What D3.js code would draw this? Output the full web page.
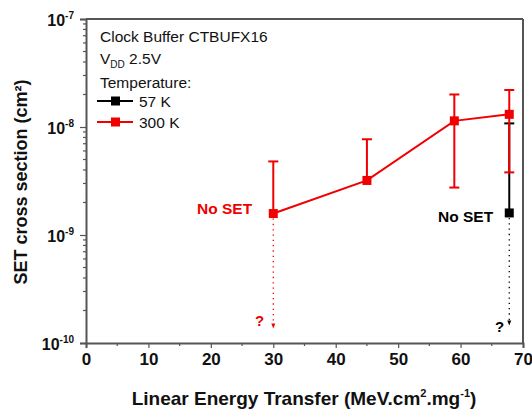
<!DOCTYPE html>
<html>
<head>
<meta charset="utf-8">
<script src="https://cdn.jsdelivr.net/npm/d3@7"></script>
<style>
  body { margin: 0; background: #fff; }
  svg { font-family: "Liberation Sans", Arial, sans-serif; }
</style>
</head>
<body>
<div id="chart"></div>
<script>
// values
const let300 = [30, 45, 59, 67.8];
const sigma300 = [1.58e-9, 3.2e-9, 1.14e-8, 1.31e-8];
const upper300 = [4.8e-9, 7.7e-9, 2.0e-8, 2.2e-8];
const lower300 = [null, null, 2.75e-9, 3.8e-9];

const let57 = [67.8];
const sigma57 = [1.6e-9];
const upper57 = [1.08e-8];
const lower57 = [null];

// "No SET" points: dotted arrows down to "?"
const noSetLet = [30, 67.8];
const noSetFrom = [1.58e-9, 1.6e-9];
const noSetTo = [1.36e-10, 1.45e-10];
const noSetColor = ["#f00000", "#000"];

const xTicks = [0, 10, 20, 30, 40, 50, 60, 70];
const yMajor = [1e-10, 1e-9, 1e-8, 1e-7];
const yExps = ["-10", "-9", "-8", "-7"];

const margin = { top: 19, right: 9, bottom: 70, left: 86 },
      width = 532 - margin.left - margin.right,
      height = 413 - margin.top - margin.bottom;

const svg = d3.select("#chart")
  .append("svg")
  .attr("width", 532)
  .attr("height", 413);

const g = svg.append("g")
  .attr("transform", `translate(${margin.left},${margin.top})`);

const x = d3.scaleLinear().domain([0, 70]).range([0, width]);
const y = d3.scaleLog().domain([1e-10, 1e-7]).range([height, 0]);

const frame = "#555";

// x axis
const minorX = d3.range(5, 70, 10);
g.append("g")
  .attr("transform", `translate(0,${height})`)
  .selectAll("line.minor")
  .data(minorX)
  .join("line")
  .attr("x1", d => x(d)).attr("x2", d => x(d))
  .attr("y1", 0).attr("y2", 3)
  .attr("stroke", frame).attr("stroke-width", 1.2);

const xAxis = g.append("g")
  .attr("transform", `translate(0,${height})`)
  .call(d3.axisBottom(x).tickValues(xTicks).tickSize(5).tickPadding(5).tickFormat(d3.format("d")));
xAxis.select(".domain").attr("stroke", frame).attr("stroke-width", 2);
xAxis.selectAll(".tick line").attr("stroke", frame).attr("stroke-width", 1.2);
xAxis.selectAll(".tick text")
  .attr("font-family", "Liberation Sans, Arial, sans-serif")
  .attr("font-size", 17).attr("font-weight", "bold").attr("fill", "#111");

// y axis
const minorY = [];
yMajor.slice(0, -1).forEach(p => { for (let k = 2; k <= 9; k++) minorY.push(p * k); });
g.append("g").selectAll("line")
  .data(minorY)
  .join("line")
  .attr("x1", -3).attr("x2", 0)
  .attr("y1", d => y(d)).attr("y2", d => y(d))
  .attr("stroke", frame).attr("stroke-width", 1.2);

const yAxis = g.append("g")
  .call(d3.axisLeft(y).tickValues(yMajor).tickSize(6).tickFormat(""));
yAxis.select(".domain").attr("stroke", frame).attr("stroke-width", 2);
yAxis.selectAll(".tick line").attr("stroke", frame).attr("stroke-width", 1.2);

const yLab = g.append("g").selectAll("text")
  .data(yMajor)
  .join("text")
  .attr("x", -12)
  .attr("y", d => y(d) + 7)
  .attr("text-anchor", "end")
  .attr("font-size", 16).attr("font-weight", "bold").attr("fill", "#111");
yLab.append("tspan").text("10");
yLab.append("tspan")
  .attr("dy", -7).attr("font-size", 10)
  .text((d, i) => yExps[i]);

// top and right frame
g.append("line").attr("x1", 0).attr("x2", width).attr("y1", 0).attr("y2", 0)
  .attr("stroke", frame).attr("stroke-width", 2);
g.append("line").attr("x1", width).attr("x2", width).attr("y1", 0).attr("y2", height)
  .attr("stroke", frame).attr("stroke-width", 2);

// axis titles
const xt = svg.append("text")
  .attr("x", 304).attr("y", 405)
  .attr("text-anchor", "middle")
  .attr("font-size", 19).attr("font-weight", "bold").attr("fill", "#111");
xt.append("tspan").text("Linear Energy Transfer (MeV.cm");
xt.append("tspan").attr("dy", -8).attr("font-size", 11).text("2");
xt.append("tspan").attr("dy", 8).text(".mg");
xt.append("tspan").attr("dy", -8).attr("font-size", 11).text("-1");
xt.append("tspan").attr("dy", 8).text(")");

svg.append("text")
  .attr("transform", "translate(27,182) rotate(-90)")
  .attr("text-anchor", "middle")
  .attr("font-size", 18).attr("font-weight", "bold").attr("fill", "#111")
  .text("SET cross section (cm²)");

// dotted "No SET" arrows
noSetLet.forEach((l, i) => {
  const c = noSetColor[i];
  g.append("line")
    .attr("x1", x(l)).attr("x2", x(l))
    .attr("y1", y(noSetFrom[i]) + 5).attr("y2", y(noSetTo[i]) - 3)
    .attr("stroke", c).attr("stroke-width", 1.3)
    .attr("stroke-dasharray", "1.3,4");
  const ay = y(noSetTo[i]);
  g.append("path")
    .attr("d", `M${x(l) - 2},${ay - 5}L${x(l) + 2},${ay - 5}L${x(l)},${ay}Z`)
    .attr("fill", c);
});

// series drawing
function drawSeries(lets, vals, ups, lows, color) {
  const pts = lets.map((l, i) => ({ l, v: vals[i], u: ups[i], lo: lows[i] }));
  pts.forEach(d => {
    const top = y(d.u), bot = d.lo ? y(d.lo) : y(d.v);
    g.append("line").attr("x1", x(d.l)).attr("x2", x(d.l))
      .attr("y1", top).attr("y2", bot)
      .attr("stroke", color).attr("stroke-width", 2);
    g.append("line").attr("x1", x(d.l) - 5).attr("x2", x(d.l) + 5)
      .attr("y1", top).attr("y2", top)
      .attr("stroke", color).attr("stroke-width", 2);
    if (d.lo) {
      g.append("line").attr("x1", x(d.l) - 5).attr("x2", x(d.l) + 5)
        .attr("y1", bot).attr("y2", bot)
        .attr("stroke", color).attr("stroke-width", 2);
    }
  });
  g.append("path")
    .datum(pts)
    .attr("fill", "none")
    .attr("stroke", color)
    .attr("stroke-width", 2)
    .attr("d", d3.line().x(d => x(d.l)).y(d => y(d.v)));
  g.selectAll(null)
    .data(pts)
    .join("rect")
    .attr("x", d => x(d.l) - 4.5)
    .attr("y", d => y(d.v) - 4.5)
    .attr("width", 9).attr("height", 9)
    .attr("fill", color);
}

drawSeries(let57, sigma57, upper57, lower57, "#000");
drawSeries(let300, sigma300, upper300, lower300, "#f00000");

// annotations
svg.append("text").attr("x", 197).attr("y", 214)
  .attr("font-size", 15.5).attr("font-weight", "bold").attr("fill", "#f00000")
  .text("No SET");
svg.append("text").attr("x", 438).attr("y", 222)
  .attr("font-size", 15.5).attr("font-weight", "bold").attr("fill", "#000")
  .text("No SET");
svg.append("text").attr("x", 255).attr("y", 326)
  .attr("font-size", 15).attr("font-weight", "bold").attr("fill", "#f00000")
  .text("?");
svg.append("text").attr("x", 495).attr("y", 332)
  .attr("font-size", 15).attr("font-weight", "bold").attr("fill", "#000")
  .text("?");

// legend
const legend = svg.append("g").attr("font-size", 15.5).attr("fill", "#111");
legend.append("text").attr("x", 100).attr("y", 42).text("Clock Buffer CTBUFX16");
const vdd = legend.append("text").attr("x", 100).attr("y", 64);
vdd.append("tspan").text("V");
vdd.append("tspan").attr("dy", 4).attr("font-size", 10).text("DD");
vdd.append("tspan").attr("dy", -4).text(" 2.5V");
legend.append("text").attr("x", 100).attr("y", 88).text("Temperature:");

const legItems = [{ name: "57 K", color: "#000" }, { name: "300 K", color: "#f00000" }];
legItems.forEach((d, i) => {
  const ly = 101 + i * 21;
  legend.append("line").attr("x1", 97).attr("x2", 133)
    .attr("y1", ly).attr("y2", ly)
    .attr("stroke", d.color).attr("stroke-width", 2);
  legend.append("rect").attr("x", 111).attr("y", ly - 4.5)
    .attr("width", 9).attr("height", 9).attr("fill", d.color);
  legend.append("text").attr("x", 139).attr("y", ly + 5.5).text(d.name);
});
</script>
</body>
</html>
